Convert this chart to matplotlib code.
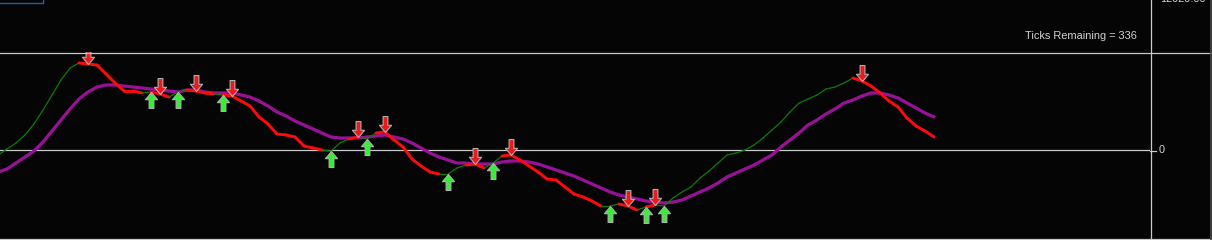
import numpy as np
import matplotlib
matplotlib.use("Agg")
import matplotlib.pyplot as plt
from matplotlib.path import Path
from matplotlib.patches import Rectangle
from matplotlib.lines import Line2D
from matplotlib.collections import LineCollection

# indicator values, one per bar (bar 0 sits just off the left edge)
fast = [-5, 1, 7, 15, 26, 40, 55, 70, 82, 87,
        86, 85, 76, 67, 59, 59, 57, 58, 56, 53,
        58, 60, 59, 57, 56, 55, 54, 49, 44, 33,
        26, 16, 15, 13, 4, 2, 0, -1, 7, 11,
        13, 11, 17, 18, 10, 3, -9, -16, -22, -24,
        -24, -18, -15, -14, -18, -13, -6, -5, -10, -16,
        -22, -29, -30, -37, -44, -47, -51, -56, -56, -54,
        -56, -60, -57, -55, -56, -48, -42, -37, -28, -21,
        -13, -5, -3, 0, 5, 12, 20, 28, 38, 47,
        51, 55, 61, 63, 67, 72, 69, 64, 57, 49,
        43, 32, 24, 19, 13]
slow = [-22, -19, -13, -7, -1, 8, 19, 30, 41, 51,
        58, 63, 65, 65, 64, 63, 62, 61, 60, 59,
        58, 60, 60, 58, 57, 57, 57, 55, 53, 49,
        44, 38, 34, 29, 25, 21, 17, 13, 12, 12,
        12, 13, 14, 15, 13, 11, 7, 2, -3, -7,
        -10, -13, -13, -14, -14, -14, -12, -11, -11, -12,
        -14, -17, -20, -23, -26, -30, -34, -38, -42, -45,
        -47, -49, -51, -52, -53, -52, -50, -46, -42, -38,
        -33, -27, -23, -19, -15, -10, -5, 3, 10, 17,
        25, 30, 36, 41, 47, 50, 54, 57, 57, 55,
        52, 47, 42, 37, 33]
sell_bars = [10, 18, 22, 26, 40, 43, 53, 57, 70, 73, 96]
buy_bars = [17, 20, 25, 37, 41, 50, 55, 68, 72, 74]
ticks_left = 336
price_label = "12020.00"

W, H = 1212, 240
bg = "#050505"
grid = "#c8c8c8"

fig = plt.figure(figsize=(W / 100, H / 100), dpi=100, facecolor=bg)

# indicator window: x from 0 to 1150 px, y from 52 to 238 px
ax = fig.add_axes([0, 2 / H, 1150 / W, 186 / H], facecolor=bg)
bars = np.arange(len(fast))
ax.set_xlim(2 / 9, 1152 / 9)
ax.set_ylim(-88, 98)
for s in ax.spines.values():
    s.set_visible(False)
ax.set_xticks([])
ax.set_yticks([])

ax.axhline(0, color=grid, lw=0.9, zorder=1)
ax.plot(bars, slow, color="#9a1199", lw=2.3, zorder=2, solid_capstyle="round")

# fast line coloured by the current signal state
state = []
cur = 1
for b in bars:
    if b in sell_bars:
        cur = -1
    elif b in buy_bars:
        cur = 1
    state.append(cur)
segs = [[(bars[i - 1], fast[i - 1]), (bars[i], fast[i])] for i in range(1, len(fast))]
cols = ["#ff0a0a" if state[i] < 0 else "#0a7a0a" for i in range(1, len(fast))]
lws = [2.1 if state[i] < 0 else 0.9 for i in range(1, len(fast))]
ax.add_collection(LineCollection(segs, colors=cols, linewidths=lws, zorder=3,
                                 capstyle="round"))

up_verts = [(0, 0), (0.38, -0.45), (0.15, -0.45), (0.15, -1), (-0.15, -1),
            (-0.15, -0.45), (-0.38, -0.45), (0, 0)]
up_path = Path(up_verts, closed=True)
dn_path = Path([(x, -y) for x, y in up_verts], closed=True)

ax.plot([bars[b] for b in buy_bars], [fast[b] for b in buy_bars], ls="none",
        marker=up_path, ms=23, mfc="#33f033", mec="#b0b0b0", mew=0.8, zorder=5)
ax.plot([bars[b] for b in sell_bars], [fast[b] for b in sell_bars], ls="none",
        marker=dn_path, ms=23, mfc="#f01818", mec="#b0b0b0", mew=0.8, zorder=5)

# frame lines and labels in pixel space
ov = fig.add_axes([0, 0, 1, 1], facecolor="none")
ov.set_xlim(0, W)
ov.set_ylim(H, 0)
ov.axis("off")
ov.add_line(Line2D([0, W], [52.5, 52.5], color=grid, lw=0.9))
ov.add_line(Line2D([0, W], [238.5, 238.5], color=grid, lw=0.9))
ov.add_line(Line2D([1150.5, 1150.5], [0, 239], color=grid, lw=0.9))
ov.add_line(Line2D([1150, 1156], [150.5, 150.5], color=grid, lw=0.9))
ov.add_line(Line2D([1210.5, 1210.5], [0, H], color="#4a4a4a", lw=1.2))
ov.add_patch(Rectangle((-2, -6), 45, 8.5, fill=False, ec="#2060b0", lw=1.0))

font = ["Liberation Sans", "DejaVu Sans"]
ov.text(1137, 36, f"Ticks Remaining = {ticks_left}", color="#d0d0d0", fontsize=7.9,
        family=font, ha="right", va="center")
ov.text(1159, 150, "0", color="#d0d0d0", fontsize=7.9, family=font, ha="left", va="center")
ov.text(1160, 2.5, price_label, color="#d0d0d0", fontsize=7.9, family=font,
        ha="left", va="baseline")

fig.savefig("out.png", dpi=100, facecolor=bg)
